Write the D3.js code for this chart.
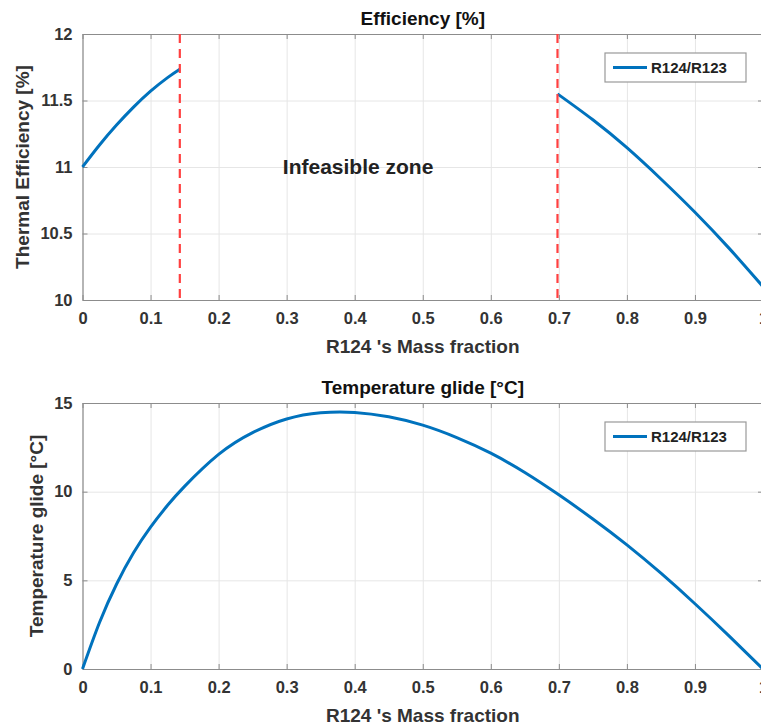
<!DOCTYPE html>
<html><head><meta charset="utf-8">
<script src="https://cdn.jsdelivr.net/npm/d3@7"></script>
<style>body{margin:0;background:#fff;}svg{display:block;font-family:"Liberation Sans",Arial,sans-serif;}</style>
</head><body>
<svg id="c" width="761" height="728"></svg>
<script>
// ---- data ----
const xTicks = [0,0.1,0.2,0.3,0.4,0.5,0.6,0.7,0.8,0.9,1];
const effTicks = [10,10.5,11,11.5,12];
const glideTicks = [0,5,10,15];
const effLeftX = [0,0.025,0.05,0.075,0.1,0.125,0.143];
const effLeftY = [11.0,11.165,11.315,11.45,11.57,11.672,11.735];
const effRightX = [0.698,0.75,0.8,0.85,0.9,0.95,1.0];
const effRightY = [11.55,11.355,11.145,10.91,10.66,10.39,10.1];
const feasBounds = [0.143,0.698];
const glideX = [0,0.025,0.05,0.075,0.1,0.125,0.15,0.2,0.25,0.3,0.35,0.4,0.45,0.5,0.55,0.6,0.65,0.7,0.75,0.8,0.85,0.9,0.95,1.0];
const glideY = [0,2.62,4.78,6.55,8.0,9.23,10.3,12.1,13.33,14.1,14.45,14.47,14.22,13.75,13.05,12.17,11.08,9.82,8.46,7.0,5.4,3.68,1.87,0];
const seriesName = "R124/R123";

const svg = d3.select("#c");
const blue = "#0072BD";
const x = d3.scaleLinear().domain([0,1]).range([82.5,763]);

function panel(cfg){
  const y = d3.scaleLinear().domain(cfg.domain).range([cfg.bottom,cfg.top]);
  const g = svg.append("g");
  g.append("g").attr("transform",`translate(0,${cfg.bottom})`)
    .call(d3.axisBottom(x).tickValues(xTicks).tickSize(-(cfg.bottom-cfg.top)).tickFormat(""))
    .call(a=>{a.select(".domain").remove();a.selectAll("line").attr("stroke","#e6e6e6");});
  g.append("g").attr("transform",`translate(${x.range()[0]},0)`)
    .call(d3.axisLeft(y).tickValues(cfg.ticks).tickSize(-(x.range()[1]-x.range()[0])).tickFormat(""))
    .call(a=>{a.select(".domain").remove();a.selectAll("line").attr("stroke","#e6e6e6");});
  const styleAx = a=>{a.select(".domain").attr("stroke","#8c8c8c").attr("stroke-width",1.2);
    a.selectAll(".tick line").attr("stroke","#8c8c8c");
    a.selectAll("text").attr("fill","#333").attr("font-weight","bold").attr("font-size","16.5px");};
  g.append("g").attr("transform",`translate(0,${cfg.bottom})`)
    .call(d3.axisBottom(x).tickValues(xTicks).tickSizeInner(-5).tickSizeOuter(0).tickPadding(12)
      .tickFormat(d=>(d===0||d===1)?String(d):d3.format(".1f")(d))).call(styleAx);
  g.append("g").attr("transform",`translate(0,${cfg.top})`)
    .call(d3.axisTop(x).tickValues(xTicks).tickSizeInner(-5).tickSizeOuter(0).tickFormat("")).call(styleAx);
  g.append("g").attr("transform",`translate(${x.range()[0]},0)`)
    .call(d3.axisLeft(y).tickValues(cfg.ticks).tickSizeInner(-5).tickSizeOuter(0).tickPadding(10)
      .tickFormat(d=>String(d))).call(styleAx);
  g.append("g").attr("transform",`translate(${x.range()[1]},0)`)
    .call(d3.axisRight(y).tickValues(cfg.ticks).tickSizeInner(-5).tickSizeOuter(0).tickFormat("")).call(styleAx);
  const cx = (x.range()[0]+x.range()[1])/2;
  g.append("text").attr("x",cx).attr("y",cfg.top-9).attr("text-anchor","middle")
    .attr("font-weight","bold").attr("font-size","19px").attr("fill","#111").text(cfg.title);
  g.append("text").attr("x",cx).attr("y",cfg.bottom+53).attr("text-anchor","middle")
    .attr("font-weight","bold").attr("font-size","19px").attr("fill","#333").text("R124 's Mass fraction");
  g.append("text").attr("transform",`translate(${cfg.ylx},${(cfg.top+cfg.bottom)/2}) rotate(-90)`)
    .attr("text-anchor","middle").attr("font-weight","bold").attr("font-size","19px").attr("fill","#333").text(cfg.ylabel);
  const lg = g.append("g").attr("transform",`translate(605,${cfg.top+19})`);
  lg.append("rect").attr("width",141).attr("height",29).attr("fill","#fff").attr("stroke","#999").attr("stroke-width",1.2);
  lg.append("line").attr("x1",8).attr("x2",42).attr("y1",14.5).attr("y2",14.5).attr("stroke",blue).attr("stroke-width",3);
  lg.append("text").attr("x",46).attr("y",20).attr("font-weight","bold").attr("font-size","15px").attr("fill","#222").text(seriesName);
  return {g,y};
}

const p1 = panel({domain:[10,12],top:34,bottom:300,ticks:effTicks,title:"Efficiency [%]",ylabel:"Thermal Efficiency [%]",ylx:29});
const line1 = d3.line().x(d=>x(d[0])).y(d=>p1.y(d[1])).curve(d3.curveNatural);
[[effLeftX,effLeftY],[effRightX,effRightY]].forEach(([xs,ys])=>{
  p1.g.append("path").datum(xs.map((v,i)=>[v,ys[i]])).attr("d",line1)
    .attr("fill","none").attr("stroke",blue).attr("stroke-width",3);
});
feasBounds.forEach(b=>{
  p1.g.append("line").attr("x1",x(b)).attr("x2",x(b)).attr("y1",p1.y(12)).attr("y2",p1.y(10))
    .attr("stroke","#ff4040").attr("stroke-width",2.2).attr("stroke-dasharray","9,6");
});
p1.g.append("text").attr("x",x(0.405)).attr("y",p1.y(11)+7).attr("text-anchor","middle")
  .attr("font-weight","bold").attr("font-size","21px").attr("fill","#222").text("Infeasible zone");

const p2 = panel({domain:[0,15],top:403,bottom:669,ticks:glideTicks,title:"Temperature glide [°C]",ylabel:"Temperature glide [°C]",ylx:43});
p2.g.append("path").datum(glideX.map((v,i)=>[v,glideY[i]]))
  .attr("d",d3.line().x(d=>x(d[0])).y(d=>p2.y(d[1])).curve(d3.curveNatural))
  .attr("fill","none").attr("stroke",blue).attr("stroke-width",3);
</script>
</body></html>
